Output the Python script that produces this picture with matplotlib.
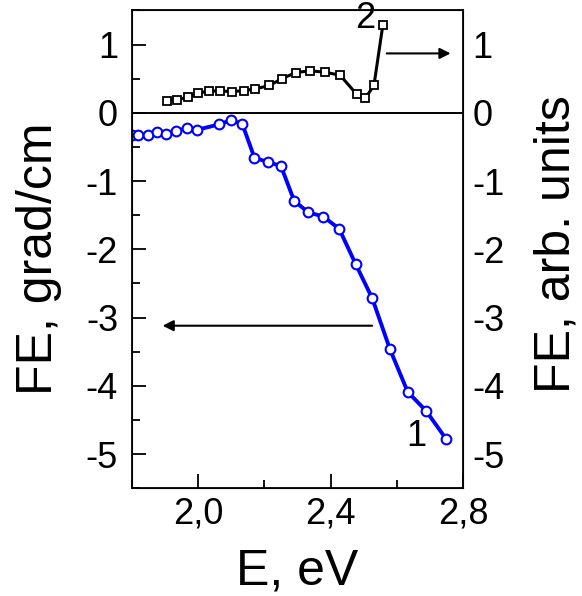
import numpy as np
import matplotlib
matplotlib.use('Agg')
import matplotlib.pyplot as plt
from matplotlib.ticker import MultipleLocator, FuncFormatter

plt.rcParams['font.family'] = ['Liberation Sans', 'DejaVu Sans']

# curve 1 (left axis), blue circles
e1 = [1.800, 1.818, 1.847, 1.875, 1.904, 1.934, 1.965, 1.996, 2.063, 2.098, 2.133,
      2.170, 2.210, 2.250, 2.290, 2.333, 2.378, 2.426, 2.476, 2.526, 2.579, 2.633,
      2.689, 2.749]
fe1 = [-0.32, -0.32, -0.33, -0.28, -0.31, -0.26, -0.23, -0.25, -0.17, -0.11, -0.16,
       -0.66, -0.72, -0.78, -1.29, -1.46, -1.52, -1.70, -2.22, -2.72, -3.46, -4.09,
       -4.37, -4.78]

# curve 2 (right axis), black squares
e2 = [1.907, 1.937, 1.968, 1.999, 2.032, 2.067, 2.102, 2.137, 2.173, 2.215, 2.253,
      2.295, 2.338, 2.383, 2.429, 2.479, 2.504, 2.531, 2.558]
fe2 = [0.18, 0.19, 0.23, 0.285, 0.32, 0.32, 0.31, 0.325, 0.35, 0.40, 0.50,
       0.59, 0.615, 0.595, 0.55, 0.27, 0.21, 0.40, 1.29]

fig = plt.figure(figsize=(5.82, 5.96), dpi=100)
ax = fig.add_axes([0.2268, 0.181, 0.5687, 0.8015])

ax.axhline(0, color='black', lw=1.4, zorder=1)
ax.plot(e1, fe1, '-o', color='#0000ff', lw=2.8, ms=7, mfc='white', mec='#0000ff', mew=1.5, zorder=3)
ax.plot(e2, fe2, '-s', color='black', lw=2.2, ms=6, mfc='white', mec='black', mew=1.3, zorder=3)

ax.set_xlim(1.8, 2.8)
ax.set_ylim(-5.5, 1.5)
ax.xaxis.set_major_locator(MultipleLocator(0.4))
ax.xaxis.set_minor_locator(MultipleLocator(0.2))
ax.yaxis.set_major_locator(MultipleLocator(1))
ax.yaxis.set_minor_locator(MultipleLocator(0.5))
ax.xaxis.set_major_formatter(FuncFormatter(lambda v, p: f'{v:.1f}'.replace('.', ',')))
ax.yaxis.set_major_formatter(FuncFormatter(lambda v, p: f'{v:.0f}'))
ax.tick_params(which='both', direction='in', top=False, right=False, labelsize=26, width=1.3)
ax.tick_params(axis='x', which='major', length=10, pad=6)
ax.tick_params(axis='x', which='minor', length=6)
ax.tick_params(axis='y', which='major', length=10, pad=10)
ax.tick_params(axis='y', which='minor', length=6)
for s in ax.spines.values():
    s.set_linewidth(1.3)

ax2 = ax.twinx()
ax2.set_ylim(ax.get_ylim())
ax2.yaxis.set_major_locator(MultipleLocator(1))
ax2.yaxis.set_major_formatter(FuncFormatter(lambda v, p: f'{v:.0f}'))
ax2.tick_params(axis='y', length=0, labelsize=26, pad=7)

ax.set_xlabel('E, eV', fontsize=36, labelpad=12)
ax.set_ylabel('FE, grad/cm', fontsize=36)
ax.yaxis.set_label_coords(-0.211, 0.48)
ax2.set_ylabel('FE, arb. units', fontsize=36)
ax2.yaxis.set_label_coords(1.214, 0.51)

ax.text(2.504, 1.38, '2', fontsize=26, ha='center', va='center')
ax.text(2.66, -4.75, '1', fontsize=26, ha='center', va='center')
ax.annotate('', xy=(2.771, 0.87), xytext=(2.561, 0.87),
            arrowprops=dict(arrowstyle='-|>', color='black', lw=1.5, mutation_scale=16))
ax.annotate('', xy=(1.884, -3.12), xytext=(2.534, -3.12),
            arrowprops=dict(arrowstyle='-|>', color='black', lw=1.5, mutation_scale=16))

fig.savefig('out.png', dpi=100)
